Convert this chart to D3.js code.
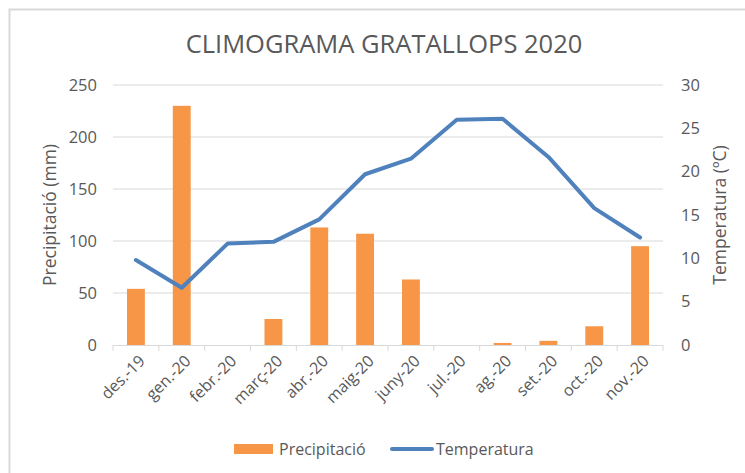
<!DOCTYPE html>
<html><head><meta charset="utf-8">
<script src="https://cdn.jsdelivr.net/npm/d3@7"></script>
<style>
html,body{margin:0;padding:0;background:#fff;}
svg{display:block;font-family:"Open Sans",sans-serif;}
</style></head>
<body><svg id="c" width="745" height="473"></svg>
<script>
const categories = ["des.-19","gen.-20","febr.-20","març-20","abr.-20","maig-20","juny-20","jul.-20","ag.-20","set.-20","oct.-20","nov.-20"];
const precipitacio = [54, 230, 0, 25, 113, 107, 63, 0, 2, 4, 18, 95];
const temperatura = [9.8, 6.6, 11.7, 11.9, 14.5, 19.7, 21.5, 26.0, 26.1, 21.7, 15.8, 12.4];
const precipTicks = [0, 50, 100, 150, 200, 250];
const tempTicks = [0, 5, 10, 15, 20, 25, 30];
const title = "CLIMOGRAMA GRATALLOPS 2020";
const leftTitle = "Precipitació (mm)";
const rightTitle = "Temperatura (ºC)";
const legendNames = ["Precipitació", "Temperatura"];

const svg = d3.select("#c");
const txt = "#595959", grid = "#d9d9d9", orange = "#F79646", blue = "#4F81BD";
const L = 113, R = 663, T = 85, B = 345;

// chart border
svg.append("rect").attr("x", 9.5).attr("y", 9.5).attr("width", 1000).attr("height", 1000)
  .attr("fill", "none").attr("stroke", "#d9d9d9").attr("stroke-width", 2);

const x = d3.scaleBand().domain(categories).range([L, R]).paddingInner(0.61).paddingOuter(0.305);
const xb = d3.scaleBand().domain(categories).range([L, R]).padding(0);
const yP = d3.scaleLinear().domain([0, 250]).range([B, T]);
const yT = d3.scaleLinear().domain([0, 30]).range([B, T]);

// gridlines
svg.append("g").selectAll("line").data(precipTicks.filter(d => d > 0)).join("line")
  .attr("x1", L).attr("x2", R).attr("y1", d => yP(d)).attr("y2", d => yP(d))
  .attr("stroke", grid).attr("stroke-width", 1);

// left axis labels
svg.append("g").selectAll("text").data(precipTicks).join("text")
  .attr("x", 97).attr("y", d => yP(d)).attr("dy", "0.35em").attr("text-anchor", "end")
  .attr("fill", txt).attr("font-size", 16.5).text(d => d);

// right axis labels
svg.append("g").selectAll("text").data(tempTicks).join("text")
  .attr("x", 681).attr("y", d => yT(d)).attr("dy", "0.35em").attr("text-anchor", "start")
  .attr("fill", txt).attr("font-size", 16.5).text(d => d);

// bars
svg.append("g").selectAll("rect").data(categories).join("rect")
  .attr("x", d => x(d)).attr("width", x.bandwidth())
  .attr("y", (d, i) => yP(precipitacio[i])).attr("height", (d, i) => B - yP(precipitacio[i]))
  .attr("fill", orange);

// x axis line & ticks
svg.append("line").attr("x1", L).attr("x2", R).attr("y1", B + 0.5).attr("y2", B + 0.5)
  .attr("stroke", grid).attr("stroke-width", 1);
const bounds = categories.map(c => xb(c)).concat([R]);
svg.append("g").selectAll("line").data(bounds).join("line")
  .attr("x1", d => d).attr("x2", d => d).attr("y1", B).attr("y2", B + 6)
  .attr("stroke", grid).attr("stroke-width", 1);

// category labels
svg.append("g").selectAll("text").data(categories).join("text")
  .attr("transform", d => `translate(${x(d) + x.bandwidth() / 2 + 6},${B + 13}) rotate(-45)`)
  .attr("text-anchor", "end").attr("dy", "0.35em")
  .attr("fill", txt).attr("font-size", 16).text(d => d);

// temperature line
const line = d3.line().x((d, i) => x(categories[i]) + x.bandwidth() / 2).y(d => yT(d));
svg.append("path").datum(temperatura).attr("d", line)
  .attr("fill", "none").attr("stroke", blue).attr("stroke-width", 4)
  .attr("stroke-linejoin", "round").attr("stroke-linecap", "round");

// title
svg.append("text").attr("x", 384).attr("y", 53).attr("text-anchor", "middle")
  .attr("fill", txt).attr("font-size", 25.5).text(title);

// axis titles
svg.append("text").attr("transform", `translate(56,${(T + B) / 2}) rotate(-90)`)
  .attr("text-anchor", "middle").attr("fill", txt).attr("font-size", 17.5).text(leftTitle);
svg.append("text").attr("transform", `translate(726,${(T + B) / 2}) rotate(-90)`)
  .attr("text-anchor", "middle").attr("fill", txt).attr("font-size", 17.5).text(rightTitle);

// legend
svg.append("rect").attr("x", 234).attr("y", 444).attr("width", 39).attr("height", 10).attr("fill", orange);
svg.append("text").attr("x", 279).attr("y", 455).attr("fill", txt).attr("font-size", 16).text(legendNames[0]);
svg.append("line").attr("x1", 392).attr("x2", 432).attr("y1", 449).attr("y2", 449)
  .attr("stroke", blue).attr("stroke-width", 4).attr("stroke-linecap", "round");
svg.append("text").attr("x", 436).attr("y", 455).attr("fill", txt).attr("font-size", 16).text(legendNames[1]);
</script></body></html>
